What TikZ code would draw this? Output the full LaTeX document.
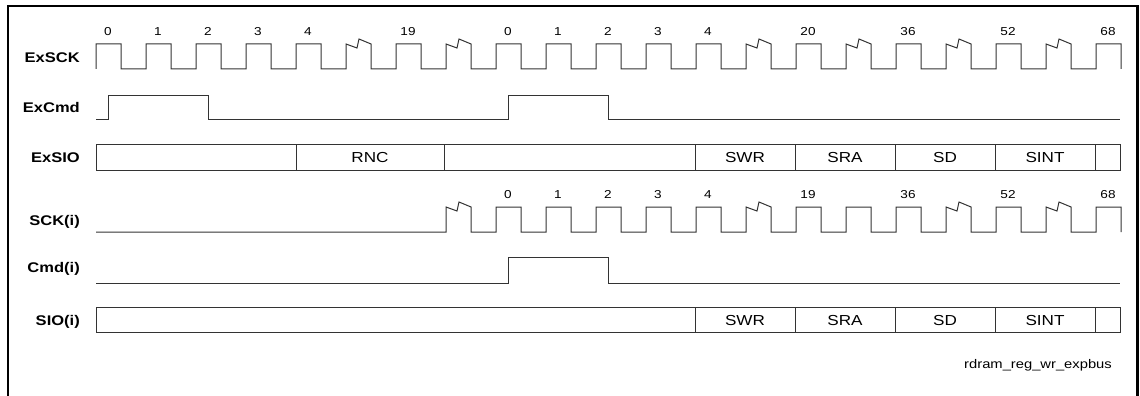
\documentclass[tikz,border=0pt]{standalone}
\usepackage{fontspec}
\setmainfont{Liberation Sans}[FakeStretch=1.18]
\begin{document}
\begin{tikzpicture}[x=1pt,y=-1pt,
  sig/.style={line width=1pt, black!80, line join=miter},
  lab/.style={anchor=base east, inner sep=0pt, font=\fontsize{14}{16}\selectfont\bfseries},
  num/.style={anchor=base, inner sep=0pt, font=\fontsize{11.5}{13}\selectfont},
  boxtxt/.style={anchor=base, inner sep=0pt, font=\fontsize{14.5}{16}\selectfont},
  frame/.style={line width=2.5pt, black}]
\useasboundingbox (0,0) rectangle (1140,396);
% frame
\draw[frame] (8,397) -- (8,6) -- (1137.5,6) -- (1137.5,397);
% row labels
\node[lab] (lExSCK) at (80,63) {ExSCK};
\node[lab] (lExCmd) at (80,112) {ExCmd};
\node[lab] (lExSIO) at (80,162) {ExSIO};
\node[lab] (lSCK) at (80,225) {SCK(i)};
\node[lab] (lCmd) at (80,272.5) {Cmd(i)};
\node[lab] (lSIO) at (80,325) {SIO(i)};
% ExSCK clock
\draw[sig] (96,69) \foreach \n/\z in {0/0,1/0,2/0,3/0,4/0,5/1,6/0,7/1,8/0,9/0,10/0,11/0,12/0,13/1,14/0,15/1,16/0,17/1,18/0,19/1,20/0}
  { -- (96+50*\n,69) -- (96+50*\n,44) -- (96+50*\n+11,44+4*\z) -- (96+50*\n+13,44-5*\z) -- (96+50*\n+25,44) -- (96+50*\n+25,69) };
\foreach \n/\t [count=\i] in {0/0,1/1,2/2,3/3,4/4,6/19,8/0,9/1,10/2,11/3,12/4,14/20,16/36,18/52,20/68}
  \node[num] (ea\i) at (96+50*\n+12,36) {\t};
% ExCmd
\draw[sig] (96,119) -- (108,119) -- (108,95) -- (208,95) -- (208,119) -- (508,119) -- (508,95) -- (608,95) -- (608,119) -- (1120,119);
% ExSIO bus
\draw[sig] (96,144.5) rectangle (1120,170);
\foreach \x in {296,444,695,795,895,995,1095} \draw[sig] (\x,144.5) -- (\x,170);
\node[boxtxt] (eRNC) at (370,162.5) {RNC};
\node[boxtxt] (eSWR) at (745,162.5) {SWR};
\node[boxtxt] (eSRA) at (845,162.5) {SRA};
\node[boxtxt] (eSD) at (945,162.5) {SD};
\node[boxtxt] (eSINT) at (1045,162.5) {SINT};
% SCK(i) clock
\draw[sig] (96,232) \foreach \n/\z in {7/1,8/0,9/0,10/0,11/0,12/0,13/1,14/0,15/0,16/0,17/1,18/0,19/1,20/0}
  { -- (96+50*\n,232) -- (96+50*\n,207) -- (96+50*\n+11,207+4*\z) -- (96+50*\n+13,207-5*\z) -- (96+50*\n+25,207) -- (96+50*\n+25,232) };
\foreach \n/\t [count=\i] in {8/0,9/1,10/2,11/3,12/4,14/19,16/36,18/52,20/68}
  \node[num] (sa\i) at (96+50*\n+12,198) {\t};
% Cmd(i)
\draw[sig] (96,283) -- (508,283) -- (508,257) -- (608,257) -- (608,283) -- (1120,283);
% SIO(i) bus
\draw[sig] (96,307.5) rectangle (1120,332.5);
\foreach \x in {695,795,895,995,1095} \draw[sig] (\x,307.5) -- (\x,332.5);
\node[boxtxt] (sSWR) at (745,325.5) {SWR};
\node[boxtxt] (sSRA) at (845,325.5) {SRA};
\node[boxtxt] (sSD) at (945,325.5) {SD};
\node[boxtxt] (sSINT) at (1045,325.5) {SINT};
% footer
\node[anchor=east, inner sep=0pt, font=\fontsize{12.5}{14}\selectfont] (foot) at (1112,365) {rdram\_reg\_wr\_expbus};
\end{tikzpicture}
\end{document}
